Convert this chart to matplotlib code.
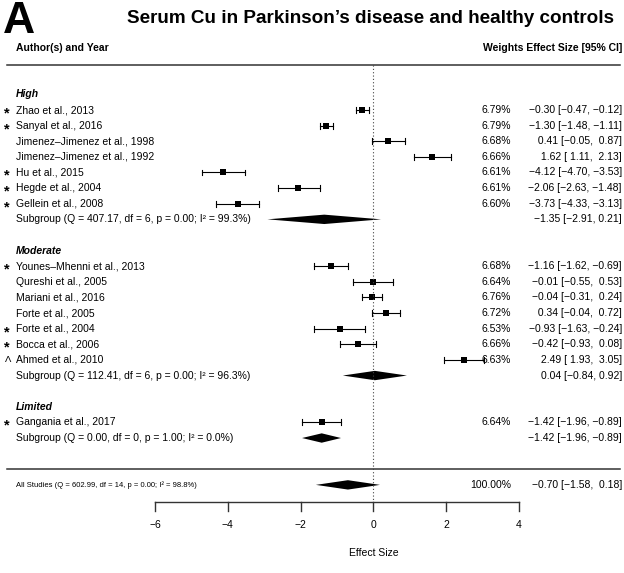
import matplotlib
matplotlib.use("Agg")
import matplotlib.pyplot as plt
from matplotlib.patches import Polygon

plt.rcParams['font.family'] = ['Liberation Sans', 'DejaVu Sans']

# ---------------- data ----------------
studies = ["Zhao et al., 2013", "Sanyal et al., 2016", "Jimenez–Jimenez et al., 1998",
           "Jimenez–Jimenez et al., 1992", "Hu et al., 2015", "Hegde et al., 2004",
           "Gellein et al., 2008",
           "Younes–Mhenni et al., 2013", "Qureshi et al., 2005", "Mariani et al., 2016",
           "Forte et al., 2005", "Forte et al., 2004", "Bocca et al., 2006", "Ahmed et al., 2010",
           "Gangania et al., 2017"]
groups = ["High"] * 7 + ["Moderate"] * 7 + ["Limited"]
marks = ["*", "*", "", "", "*", "*", "*", "*", "", "", "", "*", "*", "Λ", "*"]
weights = [6.79, 6.79, 6.68, 6.66, 6.61, 6.61, 6.60, 6.68, 6.64, 6.76, 6.72, 6.53, 6.66, 6.63, 6.64]
est = [-0.30, -1.30, 0.41, 1.62, -4.12, -2.06, -3.73, -1.16, -0.01, -0.04, 0.34, -0.93, -0.42, 2.49, -1.42]
lo = [-0.47, -1.48, -0.05, 1.11, -4.70, -2.63, -4.33, -1.62, -0.55, -0.31, -0.04, -1.63, -0.93, 1.93, -1.96]
hi = [-0.12, -1.11, 0.87, 2.13, -3.53, -1.48, -3.13, -0.69, 0.53, 0.24, 0.72, -0.24, 0.08, 3.05, -0.89]

sub_names = ["High", "Moderate", "Limited"]
sub_Q = [407.17, 112.41, 0.00]
sub_df = [6, 6, 0]
sub_p = [0.00, 0.00, 1.00]
sub_I2 = [99.3, 96.3, 0.0]
sub_est = [-1.35, 0.04, -1.42]
sub_lo = [-2.91, -0.84, -1.96]
sub_hi = [0.21, 0.92, -0.89]

all_Q, all_df, all_p, all_I2 = 602.99, 14, 0.00, 98.8
all_w, all_est, all_lo, all_hi = 100.00, -0.70, -1.58, 0.18

xticks = [-6, -4, -2, 0, 2, 4]
title = "Serum Cu in Parkinson’s disease and healthy controls"

# ---------------- layout helpers ----------------
W, H = 624, 573
X0PX, XSC = 373.4, 36.4          # pixel of x=0, pixels per unit
R1PX, RSC = 110.0, 15.62          # pixel of row 1, pixels per row


def px2x(p):
    return (p - X0PX) / XSC


def py2r(p):
    return 1 + (p - R1PX) / RSC


fig = plt.figure(figsize=(W / 100, H / 100), dpi=100)
ax = fig.add_axes([0, 0, 1, 1])
ax.set_xlim(px2x(0), px2x(W))
ax.set_ylim(py2r(H), py2r(0))
ax.axis('off')


def mfmt(v, pad=True):
    s = f"{v:5.2f}" if pad else f"{v:.2f}"
    return s.replace("-", "−")


FS = 7.5
xlab = px2x(16)
xstar = px2x(4)
xw = px2x(511)
xe = px2x(622)

# row assignment
row = 0
study_rows = []
sub_rows = []
label_rows = []
for g in sub_names:
    label_rows.append(row)
    row += 1
    for i, gg in enumerate(groups):
        if gg == g:
            study_rows.append(row)
            row += 1
    sub_rows.append(row)
    row += 2
all_row = row + 1

# group labels
for g, r in zip(sub_names, label_rows):
    ax.text(xlab, r, g, fontsize=FS, fontweight='bold', fontstyle='italic',
            ha='left', va='center')

# studies
ch = 0.19
for i, r in enumerate(study_rows):
    ax.text(xlab, r, studies[i], fontsize=FS, ha='left', va='center')
    if marks[i] == "*":
        ax.text(xstar, r + 0.22, "*", fontsize=10.5, fontweight='bold', ha='left', va='center')
    elif marks[i]:
        ax.text(px2x(4.5), r, marks[i], fontsize=6.8, ha='left', va='center')
    ax.plot([lo[i], hi[i]], [r, r], color='black', lw=0.8)
    ax.plot([lo[i], lo[i]], [r - ch, r + ch], color='black', lw=0.8)
    ax.plot([hi[i], hi[i]], [r - ch, r + ch], color='black', lw=0.8)
    ax.plot(est[i], r, marker='s', color='black', ms=3.9 * weights[i] / 6.7, mew=0)
    ax.text(xw, r, f"{weights[i]:.2f}%", fontsize=FS, ha='right', va='center')
    ax.text(xe, r, f"{mfmt(est[i])} [{mfmt(lo[i])}, {mfmt(hi[i])}]",
            fontsize=FS, ha='right', va='center')

# subgroups
dh = 0.3
for k, r in enumerate(sub_rows):
    ax.text(xlab, r, f"Subgroup (Q = {sub_Q[k]:.2f}, df = {sub_df[k]}, p = {sub_p[k]:.2f}; "
                     f"I² = {sub_I2[k]:.1f}%)", fontsize=FS, ha='left', va='center')
    ax.add_patch(Polygon([(sub_lo[k], r), (sub_est[k], r - dh), (sub_hi[k], r), (sub_est[k], r + dh)],
                         closed=True, color='black', lw=0))
    ax.text(xe, r, f"{mfmt(sub_est[k], False)} [{mfmt(sub_lo[k], False)}, {mfmt(sub_hi[k], False)}]",
            fontsize=FS, ha='right', va='center')

# overall
ax.text(xlab, all_row, f"All Studies (Q = {all_Q:.2f}, df = {all_df}, p = {all_p:.2f}; "
                       f"I² = {all_I2:.1f}%)", fontsize=5.5, ha='left', va='center')
ax.add_patch(Polygon([(all_lo, all_row), (all_est, all_row - dh), (all_hi, all_row),
                      (all_est, all_row + dh)], closed=True, color='black', lw=0))
ax.text(xw, all_row, f"{all_w:.2f}%", fontsize=FS, ha='right', va='center')
ax.text(xe, all_row, f"{mfmt(all_est)} [{mfmt(all_lo)}, {mfmt(all_hi)}]",
        fontsize=FS, ha='right', va='center')

# lines
r_head = py2r(65)
r_sep = py2r(469)
r_axis = py2r(502)
ax.plot([px2x(7), px2x(620)], [r_head, r_head], color='#333333', lw=1.1)
ax.plot([px2x(7), px2x(620)], [r_sep, r_sep], color='#333333', lw=1.1)
ax.plot([0, 0], [r_head, r_axis], color='#444444', lw=0.8, ls=(0, (1, 2)))

# axis
ax.plot([xticks[0], xticks[-1]], [r_axis, r_axis], color='#333333', lw=1.0)
tl = 9 / RSC
for t in xticks:
    ax.plot([t, t], [r_axis, r_axis + tl], color='#333333', lw=1.0)
    ax.text(t, py2r(525), f"{t}".replace("-", "−"), fontsize=FS, ha='center', va='center')
ax.text(0, py2r(553), "Effect Size", fontsize=FS, ha='center', va='center')

# headers
ax.text(xlab, py2r(48), "Author(s) and Year", fontsize=FS, fontweight='bold', ha='left', va='center')
ax.text(xe, py2r(48), "Weights Effect Size [95% CI]", fontsize=FS, fontweight='bold',
        ha='right', va='center')
ax.text(px2x(370.5), py2r(18), title, fontsize=13.6, fontweight='bold', ha='center', va='center')
ax.text(px2x(3), py2r(21), "A", fontsize=32, fontweight='bold', ha='left', va='center')

fig.savefig("out.png", dpi=100)
